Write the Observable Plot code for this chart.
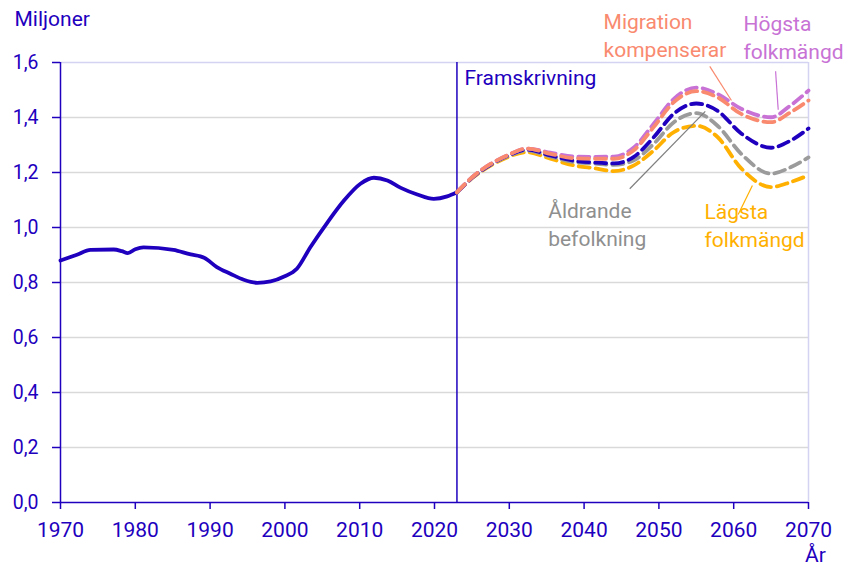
<!DOCTYPE html>
<html><head><meta charset="utf-8">
<script src="https://cdn.jsdelivr.net/npm/d3@7"></script>
<script src="https://cdn.jsdelivr.net/npm/@observablehq/plot@0.6"></script>
<style>body{margin:0;background:#fff;font-family:Roboto,sans-serif}</style>
</head><body><div id="chart"></div>
<script>
// Historical series (millions)
const histYears  = [1970, 1972.2, 1974, 1977.1, 1978.2, 1979, 1980, 1981.1, 1985.1, 1987.4, 1988.7, 1989.2, 1990.9, 1992.7, 1994.5, 1996.3, 1998.1, 1999.9, 2001.6, 2003.4, 2005.7, 2007.9, 2010.1, 2011.9, 2013.7, 2015.5, 2017.7, 2019.9, 2021.7, 2023];
const histValues = [0.880, 0.901, 0.919, 0.920, 0.914, 0.907, 0.921, 0.928, 0.919, 0.902, 0.895, 0.890, 0.856, 0.832, 0.810, 0.799, 0.804, 0.822, 0.850, 0.928, 1.019, 1.098, 1.159, 1.181, 1.171, 1.144, 1.120, 1.104, 1.113, 1.128];

// Projections
const projYears   = [2023, 2025.3, 2027.5, 2029.7, 2032.4, 2035.5, 2038.6, 2041.5, 2044, 2046.6, 2049.3, 2052, 2055, 2057.8, 2061, 2065, 2067.6, 2070];
const hogsta      = [1.128, 1.189, 1.231, 1.262, 1.287, 1.272, 1.258, 1.257, 1.258, 1.290, 1.377, 1.468, 1.509, 1.486, 1.432, 1.401, 1.444, 1.498];
const migration   = [1.128, 1.189, 1.231, 1.262, 1.287, 1.268, 1.252, 1.250, 1.250, 1.280, 1.365, 1.456, 1.496, 1.474, 1.413, 1.383, 1.419, 1.462];
const huvud       = [1.128, 1.187, 1.229, 1.260, 1.283, 1.262, 1.243, 1.236, 1.233, 1.256, 1.328, 1.414, 1.451, 1.425, 1.342, 1.290, 1.316, 1.360];
const aldrande    = [1.128, 1.187, 1.228, 1.258, 1.280, 1.258, 1.238, 1.232, 1.228, 1.244, 1.304, 1.383, 1.416, 1.371, 1.268, 1.196, 1.219, 1.255];
const lagsta      = [1.128, 1.185, 1.225, 1.255, 1.274, 1.250, 1.226, 1.215, 1.205, 1.225, 1.280, 1.347, 1.370, 1.330, 1.215, 1.147, 1.165, 1.190];

const xTicks = [1970, 1980, 1990, 2000, 2010, 2020, 2030, 2040, 2050, 2060, 2070];
const yTicks = [0, 0.2, 0.4, 0.6, 0.8, 1.0, 1.2, 1.4, 1.6];
const projStart = 2023;

const seriesNames  = ["Lägsta folkmängd", "Åldrande befolkning", "Huvudalternativ", "Högsta folkmängd", "Migration kompenserar"];
const seriesValues = [lagsta, aldrande, huvud, hogsta, migration];
const seriesColors = ["#FFB000", "#9B9B9B", "#1E00BE", "#C872D5", "#F98A6F"];

// Series labels (left-aligned)
const labelTexts   = ["Migration\nkompenserar", "Högsta\nfolkmängd", "Åldrande\nbefolkning", "Lägsta\nfolkmängd"];
const labelX       = [2042.6, 2061.3, 2035.2, 2056.1];
const labelY       = [1.795, 1.785, 1.107, 1.102];
const labelColors  = ["#F98A6F", "#C872D5", "#8F8F8F", "#FFB000"];
// leader lines
const leadX1 = [2056.8, 2065.6, 2046.1, 2060.6];
const leadY1 = [1.586, 1.568, 1.141, 1.047];
const leadX2 = [2059.7, 2065.95, 2056.2, 2062.5];
const leadY2 = [1.462, 1.428, 1.422, 1.153];
const leadColors = ["#F98A6F", "#C872D5", "#7F7F7F", "#FFB000"];

const blue = "#1E00BE";
const hist = histYears.map((y, i) => ({year: y, value: histValues[i]}));
const labels = labelTexts.map((t, i) => ({t, x: labelX[i], y: labelY[i], c: labelColors[i]}));
const leads = leadX1.map((x, i) => ({x1: x, y1: leadY1[i], x2: leadX2[i], y2: leadY2[i], c: leadColors[i]}));

const lineMarks = seriesValues.map((vals, k) =>
  Plot.line(projYears.map((y, i) => ({year: y, value: vals[i]})), {
    x: "year", y: "value", stroke: seriesColors[k], strokeWidth: 3.8,
    strokeDasharray: "11,6", curve: "monotone-x"
  })
);

const chart = Plot.plot({
  width: 856, height: 568,
  marginTop: 62, marginBottom: 66, marginLeft: 60, marginRight: 48,
  style: {fontFamily: "Roboto, sans-serif", fontSize: "20px", color: blue, background: "white", overflow: "visible"},
  x: {domain: [1970, 2070], ticks: xTicks, tickFormat: d => String(d), tickSize: 7, tickPadding: 13, label: null},
  y: {domain: [0, 1.6], ticks: yTicks, tickFormat: d => d.toFixed(1).replace(".", ","), tickSize: 8, tickPadding: 14, label: null},
  marks: [
    Plot.ruleY(yTicks.filter(d => d > 0 && d < 1.6), {stroke: "#d9d9d9", strokeWidth: 1.5}),
    Plot.ruleY([1.6], {stroke: "#d4d4f2", strokeWidth: 1.5}),
    Plot.ruleX([2070], {stroke: "#d4d4f2", strokeWidth: 1.5}),
    Plot.ruleX([projStart], {stroke: blue, strokeWidth: 1.5}),
    Plot.ruleX([1970], {stroke: blue, strokeWidth: 1.5}),
    Plot.ruleY([0], {stroke: blue, strokeWidth: 1.5}),
    Plot.line(hist, {x: "year", y: "value", stroke: blue, strokeWidth: 3.8, curve: "monotone-x"}),
    ...lineMarks,
    Plot.link(leads, {x1: "x1", y1: "y1", x2: "x2", y2: "y2", stroke: "c", strokeWidth: 1.2}),
    Plot.text(labels, {x: "x", y: "y", text: "t", fill: "c", textAnchor: "start", lineAnchor: "top", lineHeight: 1.33, fontSize: 21}),
    Plot.text(["Framskrivning"], {x: [projStart + 1], y: [1.572], text: d => d, fill: blue, textAnchor: "start", lineAnchor: "top", fontSize: 21}),
    Plot.text(["Miljoner"], {frameAnchor: "top-left", dx: -46, dy: -51, text: d => d, fill: blue, textAnchor: "start", lineAnchor: "top", fontSize: 21}),
    Plot.text(["År"], {frameAnchor: "bottom-right", dx: 7, dy: 45, text: d => d, fill: blue, textAnchor: "middle", lineAnchor: "top", fontSize: 21})
  ]
});
chart.querySelectorAll("[aria-label='x-axis tick label']").forEach(g => g.setAttribute("font-size", "21"));
chart.querySelectorAll("[aria-label='y-axis tick label']").forEach(g => g.setAttribute("font-size", "19.5"));
chart.querySelectorAll("[aria-label='x-axis tick'], [aria-label='y-axis tick']").forEach(p => { p.setAttribute("stroke-width", "1.5"); });
document.getElementById("chart").appendChild(chart);
</script>
</body></html>
